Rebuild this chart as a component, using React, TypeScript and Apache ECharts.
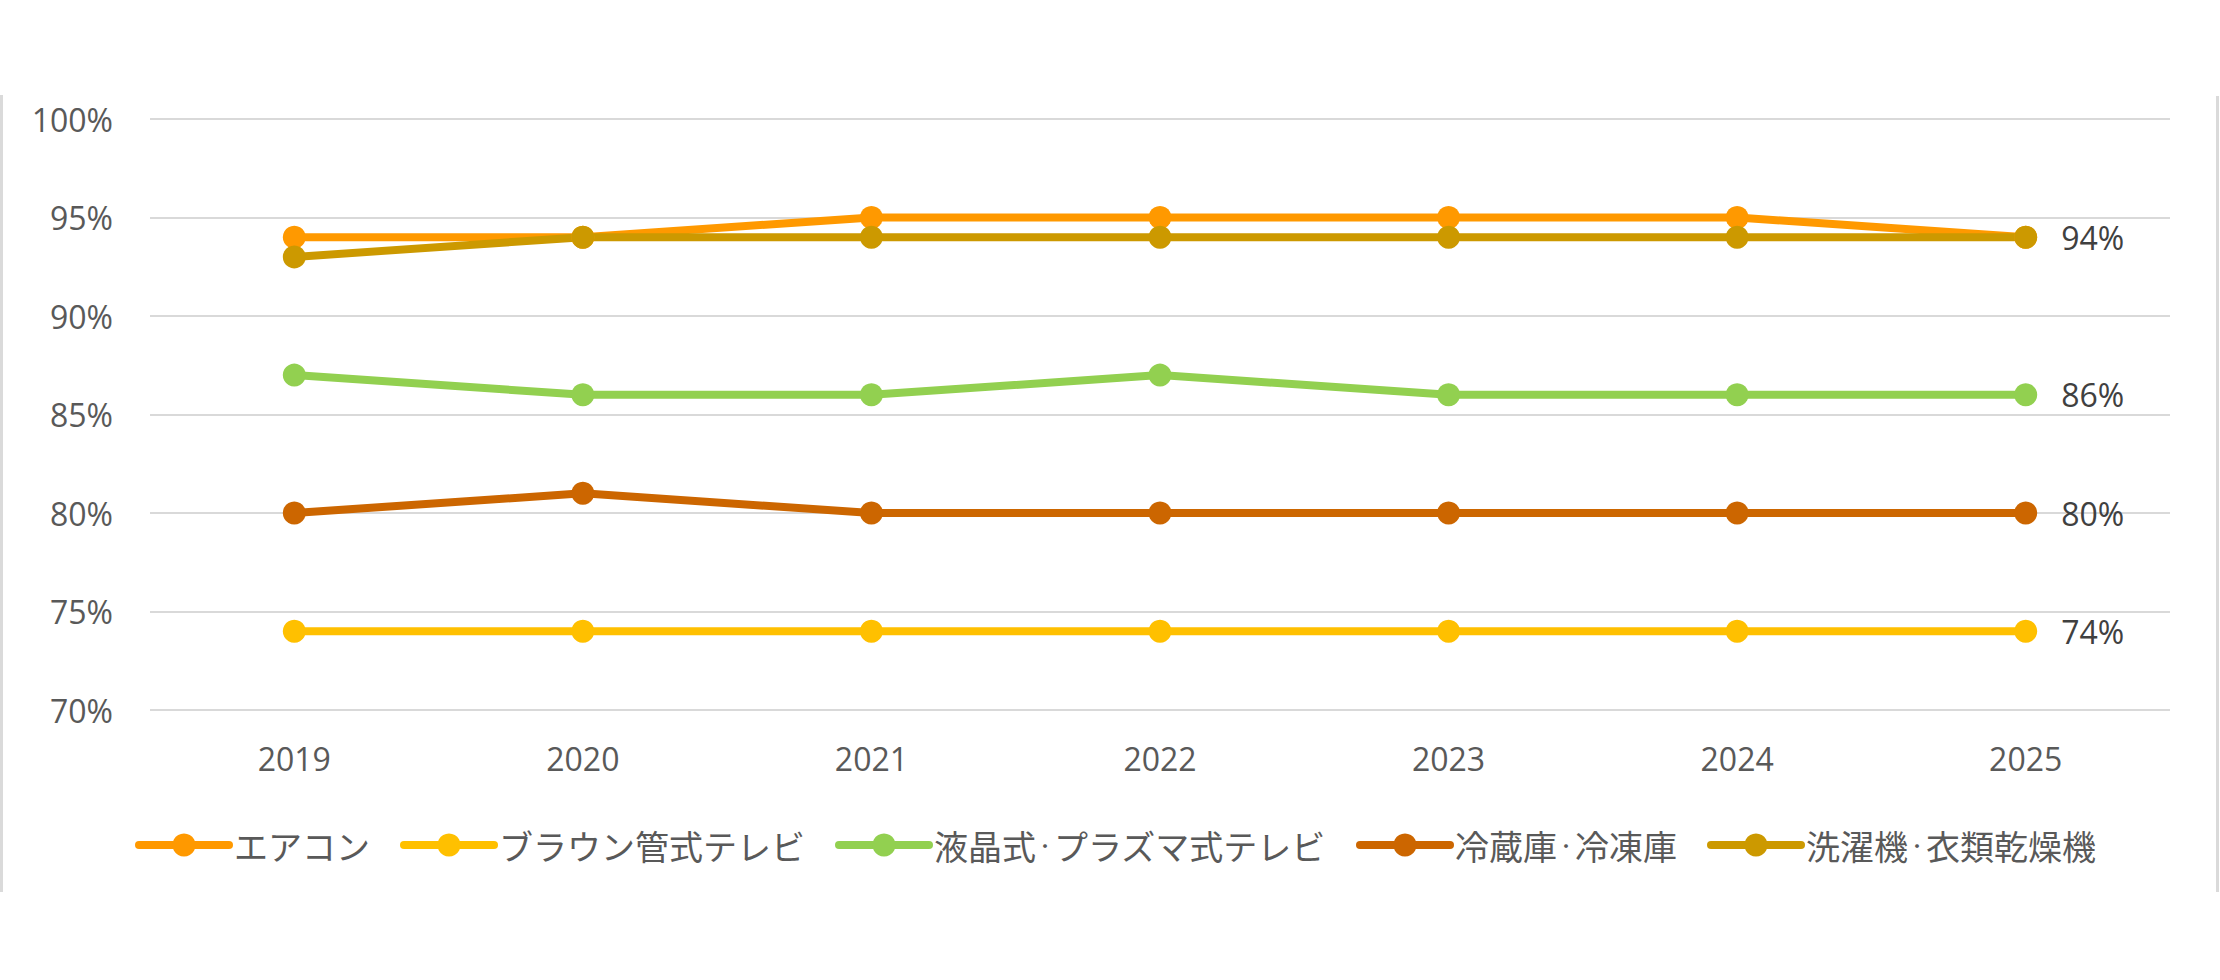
import React, { useEffect, useRef } from "react";
import * as echarts from "echarts";

const years = ["2019", "2020", "2021", "2022", "2023", "2024", "2025"];
const seriesNames = [
  "エアコン",
  "ブラウン管式テレビ",
  "液晶式・プラズマ式テレビ",
  "冷蔵庫・冷凍庫",
  "洗濯機・衣類乾燥機",
];
const airCon = [94, 94, 95, 95, 95, 95, 94];
const crtTv = [74, 74, 74, 74, 74, 74, 74];
const lcdTv = [87, 86, 86, 87, 86, 86, 86];
const fridge = [80, 81, 80, 80, 80, 80, 80];
const washer = [93, 94, 94, 94, 94, 94, 94];
const seriesColors = ["#FF9900", "#FFC000", "#92D050", "#CC6600", "#CC9900"];
const showLastLabel = [false, true, true, true, true];

export default function App() {
  const ref = useRef<HTMLDivElement>(null);

  useEffect(() => {
    if (!ref.current) return;
    const chart = echarts.init(ref.current, undefined, { renderer: "svg" });
    const values = [airCon, crtTv, lcdTv, fridge, washer];
    const numFont = "'Open Sans', 'Noto Sans', sans-serif";
    const jpFont = "'Noto Sans CJK JP', sans-serif";

    chart.setOption({
      animation: false,
      backgroundColor: "#ffffff",
      grid: { left: 150, right: 50, top: 119, bottom: 270, containLabel: false },
      xAxis: {
        type: "category",
        data: years,
        boundaryGap: true,
        axisLine: { show: false },
        axisTick: { show: false },
        axisLabel: {
          margin: 32,
          fontSize: 32,
          color: "#595959",
          fontFamily: numFont,
        },
      },
      yAxis: {
        type: "value",
        min: 70,
        max: 100,
        interval: 5,
        axisLine: { show: false },
        axisTick: { show: false },
        axisLabel: {
          margin: 37,
          fontSize: 32,
          color: "#595959",
          fontFamily: numFont,
          formatter: (v: number) => `${v}%`,
        },
        splitLine: { lineStyle: { color: "#D9D9D9", width: 2 } },
      },
      legend: {
        left: 130,
        top: 820,
        itemWidth: 90,
        itemHeight: 29,
        itemGap: 30,
        lineStyle: { width: 8, cap: "round" },
        formatter: (name: string) => name.replace(/・/g, "{d|・}"),
        textStyle: {
          fontSize: 34,
          color: "#595959",
          fontFamily: jpFont,
          lineHeight: 40,
          rich: {
            d: {
              fontSize: 18,
              color: "#595959",
              fontFamily: jpFont,
              lineHeight: 40,
            },
          },
        },
        data: seriesNames,
      },
      graphic: [
        { type: "rect", shape: { x: 0, y: 95, width: 3, height: 797 }, style: { fill: "#DADADA" } },
        { type: "rect", shape: { x: 2216, y: 96, width: 3, height: 796 }, style: { fill: "#DADADA" } },
      ],
      series: seriesNames.map((name, i) => ({
        name,
        type: "line",
        color: seriesColors[i],
        symbol: "circle",
        symbolSize: 23,
        lineStyle: { width: 8, color: seriesColors[i] },
        itemStyle: { color: seriesColors[i] },
        data: values[i].map((v, j) =>
          j === values[i].length - 1 && showLastLabel[i]
            ? {
                value: v,
                label: {
                  show: true,
                  position: "right",
                  distance: 24,
                  fontSize: 32,
                  color: "#404040",
                  fontFamily: numFont,
                  formatter: (p: any) => `${p.value}%`,
                },
              }
            : v
        ),
      })),
    });

    return () => chart.dispose();
  }, []);

  return (
    <div
      ref={ref}
      style={{ position: "absolute", left: 0, top: 0, width: 2220, height: 980 }}
    />
  );
}
